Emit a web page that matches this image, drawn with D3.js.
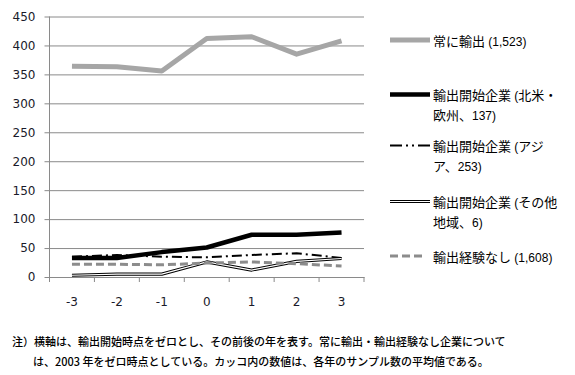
<!DOCTYPE html>
<html><head><meta charset="utf-8">
<script src="https://cdn.jsdelivr.net/npm/d3@7"></script>
<style>body{margin:0;background:#fff}svg{display:block}</style>
</head><body><svg id="c" width="575" height="375"></svg>
<script>
const categories = ["-3","-2","-1","0","1","2","3"];
const alwaysExport = [364, 363, 356, 412, 415, 385, 408];
const starterNAEU = [33, 33, 43, 51, 73, 73, 77];
const starterAsia = [35, 38, 35, 34, 38, 41, 33];
const starterOther = [3, 5, 5, 26, 12, 27, 32];
const neverExport = [22, 22, 21, 24, 26, 23, 19];
const yTicks = [0,50,100,150,200,250,300,350,400,450];
const legendLabels = [
  ["常に輸出 (1,523)"],
  ["輸出開始企業 (北米・","欧州、137)"],
  ["輸出開始企業 (アジ","ア、253)"],
  ["輸出開始企業 (その他","地域、6)"],
  ["輸出経験なし (1,608)"]
];
const notes = [
  "注）横軸は、輸出開始時点をゼロとし、その前後の年を表す。常に輸出・輸出経験なし企業につい",
  "は、2003 年をゼロ時点としている。カッコ内の数値は、各年のサンプル数の平均値である。"
];
notes[0] = notes[0] + "て";

const svg = d3.select("#c");
const L = 49.5, R = 364, T = 16.5, B = 277;
const x = d3.scaleBand().domain(categories).range([L, R]).padding(0);
const y = d3.scaleLinear().domain([0, 450]).range([B, T]);
const gridCol = "#8a8a8a";

// y grid + labels
const ya = d3.axisLeft(y).tickValues(yTicks).tickSizeInner(-(R - L + 5)).tickSizeOuter(0).tickPadding(9);
const gy = svg.append("g").attr("transform", `translate(${L-5},0)`).call(ya);
gy.select(".domain").remove();
gy.selectAll(".tick line").attr("stroke", gridCol).attr("stroke-width", 1);
gy.selectAll(".tick text").attr("font-family", "DejaVu Sans").attr("font-size", 12).attr("fill", "#1a1a2a");

// y axis line
svg.append("line").attr("x1", L).attr("x2", L).attr("y1", T).attr("y2", B).attr("stroke", gridCol);

// x axis
const xa = d3.axisBottom(x).tickSize(0).tickPadding(20);
const gx = svg.append("g").attr("transform", `translate(0,${B})`).call(xa);
gx.select(".domain").attr("stroke", gridCol);
gx.selectAll(".tick text").attr("font-family", "DejaVu Sans").attr("font-size", 12).attr("fill", "#1a1a2a");
const edges = categories.map(c => x(c)).concat([x(categories[categories.length-1]) + x.bandwidth()]);
svg.append("g").selectAll("line").data(edges).join("line")
  .attr("x1", d => d).attr("x2", d => d).attr("y1", B).attr("y2", B + 5).attr("stroke", gridCol);

const line = d3.line().x((d, i) => x(categories[i]) + x.bandwidth() / 2).y(d => y(d));

const series = [
  {data: alwaysExport, styles: [{stroke: "#a6a6a6", w: 5}]},
  {data: starterNAEU, styles: [{stroke: "#000", w: 4.5}]},
  {data: starterAsia, styles: [{stroke: "#000", w: 2, dash: "10,4,2,4"}]},
  {data: starterOther, styles: [{stroke: "#000", w: 3.2}, {stroke: "#fff", w: 1.2}]},
  {data: neverExport, styles: [{stroke: "#8c8c8c", w: 3, dash: "8,4"}]}
];
series.forEach(s => {
  s.styles.forEach(st => {
    svg.append("path").attr("d", line(s.data)).attr("fill", "none")
      .attr("stroke", st.stroke).attr("stroke-width", st.w)
      .attr("stroke-dasharray", st.dash || null).attr("stroke-linejoin", "round");
  });
});

// legend
const legY = [40, 94.5, 145.5, 201.5, 256];
const legendDash = [null, null, "12,4,2,4,2,4", null, "8,4"];
series.forEach((s, i) => {
  const yy = legY[i];
  const x2 = i === 4 ? 423 : 430;
  s.styles.forEach(st => {
    svg.append("line").attr("x1", 390).attr("x2", x2).attr("y1", yy).attr("y2", yy)
      .attr("stroke", st.stroke).attr("stroke-width", st.w)
      .attr("stroke-dasharray", legendDash[i] || st.dash || null);
  });
  legendLabels[i].forEach((t, j) => {
    const tx = svg.append("text").attr("x", 433).attr("y", yy + j * 19.5).attr("dy", "0.35em")
      .attr("fill", "#000");
    const runs = t.match(/[\x20-\x7e]+|[^\x20-\x7e]+/g);
    runs.forEach(r => {
      const ascii = /^[\x20-\x7e]+$/.test(r);
      tx.append("tspan").text(r)
        .attr("font-family", ascii ? "Liberation Sans, Arial" : "Noto Sans CJK JP")
        .attr("font-size", ascii ? 12 : 13);
    });
  });
});

// notes
svg.append("text").attr("x", 12).attr("y", 342).attr("dy", "0.35em")
  .attr("font-family", "Noto Sans CJK JP").attr("font-size", 11).attr("font-weight", 500).attr("fill", "#000").text(notes[0]);
svg.append("text").attr("x", 33).attr("y", 362).attr("dy", "0.35em")
  .attr("font-family", "Noto Sans CJK JP").attr("font-size", 11).attr("font-weight", 500).attr("fill", "#000").text(notes[1]);
</script></body></html>
